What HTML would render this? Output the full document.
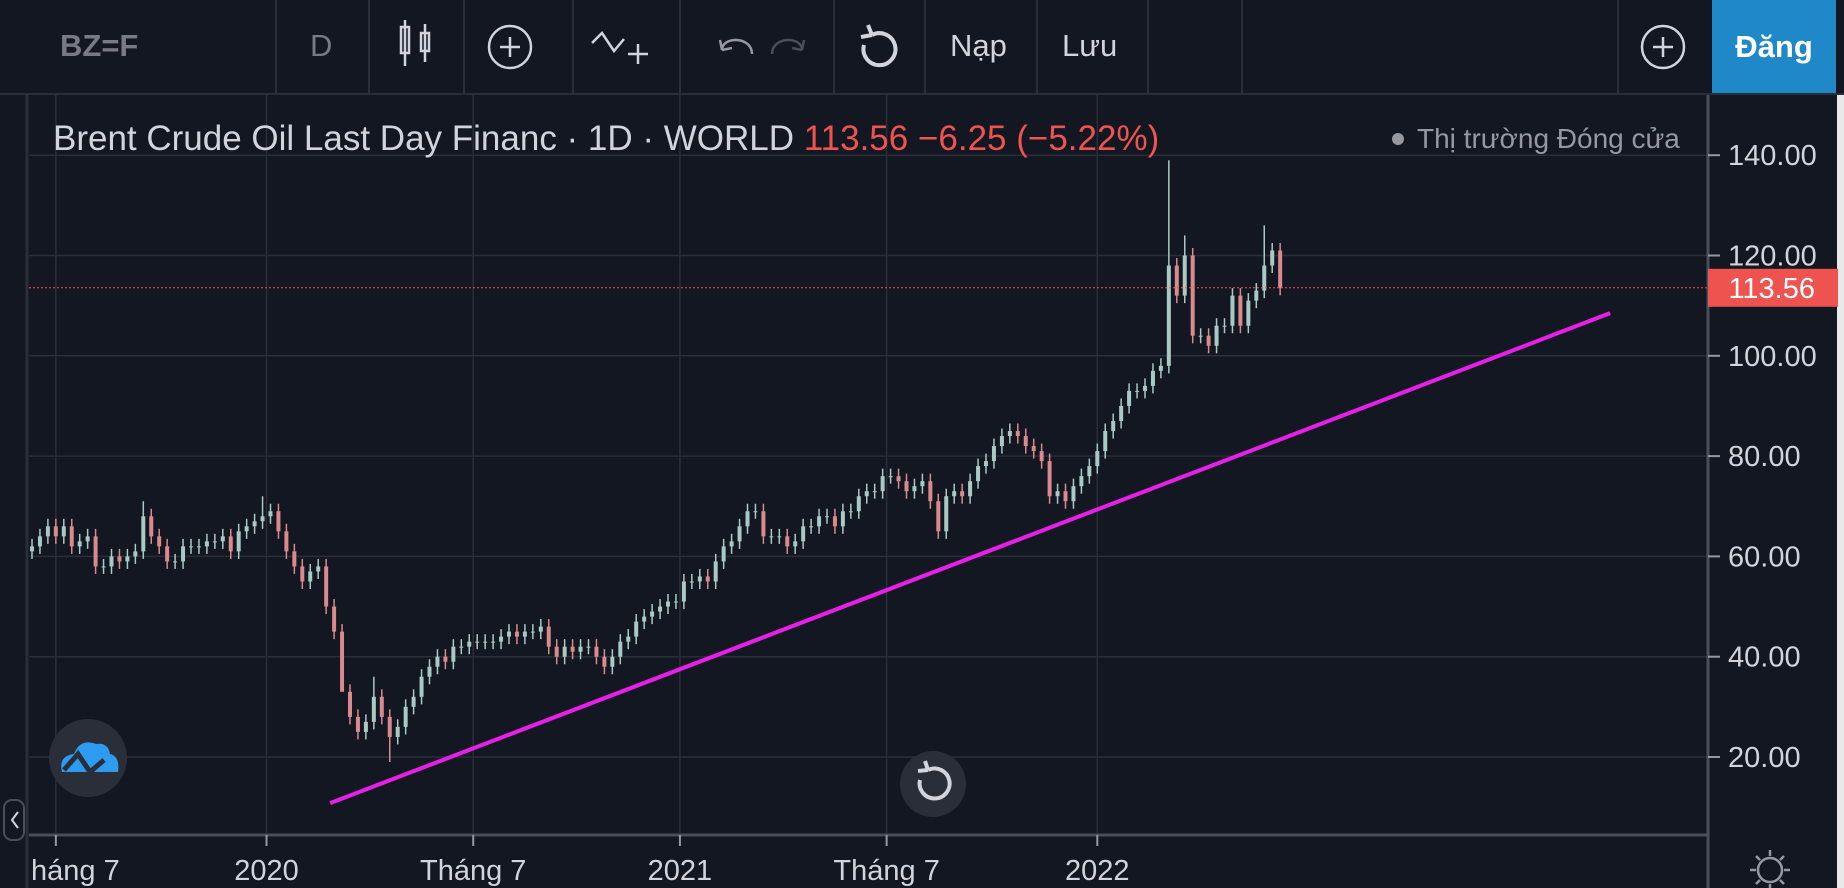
<!DOCTYPE html>
<html><head><meta charset="utf-8"><style>
body{margin:0;width:1844px;height:888px;background:#131722;overflow:hidden;font-family:"Liberation Sans","Noto Sans CJK SC",sans-serif;}
#root{position:relative;width:1844px;height:888px;}
.tb{position:absolute;top:0;left:0;width:1844px;height:93px;background:#131722;border-bottom:2px solid #2a2e39;}
.sep{position:absolute;top:0;width:2px;height:93px;background:#2a2e39;}
.tt{position:absolute;top:28px;font-size:31px;color:#9598a1;}
svg{position:absolute;left:0;top:0;}
</style></head><body><div id="root">
<div class="tb">
 <div class="tt" style="left:60px;font-weight:bold;color:#787b86">BZ=F</div>
 <div class="sep" style="left:275px"></div>
 <div class="tt" style="left:310px;color:#787b86">D</div>
 <div class="sep" style="left:368px"></div>
 <div class="sep" style="left:463px"></div>
 <div class="sep" style="left:572px"></div>
 <div class="sep" style="left:679px"></div>
 <div class="sep" style="left:833px"></div>
 <div class="sep" style="left:924px"></div>
 <div class="tt" style="left:950px;color:#d1d4dc">Nạp</div>
 <div class="sep" style="left:1036px"></div>
 <div class="tt" style="left:1062px;color:#d1d4dc">Lưu</div>
 <div class="sep" style="left:1147px"></div>
 <div class="sep" style="left:1241px"></div>
 <div class="sep" style="left:1617px"></div>
 <div style="position:absolute;left:1712px;top:0;width:124px;height:93px;background:#1e88c9;color:#fff;font-size:31px;font-weight:bold;text-align:center;line-height:93px">Đăng</div>
</div>
<svg width="1844" height="888" id="chart">
 <g stroke="#d1d4dc" stroke-width="2.5" fill="none">
  <rect x="401" y="27" width="8" height="26"/><line x1="405" y1="20" x2="405" y2="66"/>
  <rect x="421" y="33" width="8" height="18"/><line x1="425" y1="24" x2="425" y2="62"/>
  <circle cx="510" cy="47" r="21"/><line x1="500" y1="47" x2="520" y2="47"/><line x1="510" y1="37" x2="510" y2="57"/>
  <path d="M592 43 l10 -10 l12 18 l10 -12"/><line x1="628" y1="54" x2="648" y2="54"/><line x1="638" y1="44" x2="638" y2="64"/>
  <path d="M722 50 c0 -14 30 -14 30 4 M722 50 l-2 -10 M722 50 l10 -2" stroke="#9598a1"/>
  <path d="M802 50 c0 -14 -30 -14 -30 4 M802 50 l2 -10 M802 50 l-10 -2" stroke="#4a4e59"/>
  <path d="M872 35 a16 16 0 1 1 -8 10 M872 35 l-4 -10 M872 35 l-11 2" stroke-width="4"/>
  <circle cx="1663" cy="47" r="21"/><line x1="1653" y1="47" x2="1673" y2="47"/><line x1="1663" y1="37" x2="1663" y2="57"/>
 </g>
 <rect x="0" y="95" width="28" height="793" fill="#131722"/>
 <line x1="27" y1="95" x2="27" y2="888" stroke="#2a2e39" stroke-width="3"/>
 <g id="grid"></g>
 <g id="bars"></g>
 <line id="lastline" x1="29" x2="1708" stroke="#ef5350" stroke-width="1" stroke-dasharray="2,2"/>
 <line id="trend" stroke="#e81fe8" stroke-width="4"/>
 <line x1="29" y1="835" x2="1708" y2="835" stroke="#4a4e59" stroke-width="3"/>
 <line x1="1708" y1="95" x2="1708" y2="888" stroke="#4a4e59" stroke-width="3"/>
 <rect x="1837" y="95" width="7" height="793" fill="#e9e9ea"/>
 <g id="yaxis"></g><g id="xaxis"></g>
 <text x="53" y="150" font-size="35" fill="#d1d4dc">Brent Crude Oil Last Day Financ · 1D · WORLD <tspan fill="#ef5350">113.56 −6.25 (−5.22%)</tspan></text>
 <circle cx="1398" cy="139" r="6" fill="#9598a1"/>
 <text x="1417" y="148" font-size="28" fill="#9598a1">Thị trường Đóng cửa</text>
 <rect id="lastbox" x="1708" width="130" height="38" fill="#ef5350"/>
 <text id="lasttxt" x="1815" font-size="29" fill="#fff" text-anchor="end"></text>
 <g><circle cx="88" cy="758" r="39" fill="#2a2e39"/>
  <path d="M62 772 q-4 -16 12 -18 q6 -16 22 -10 q12 -2 14 10 q10 2 8 18 z" fill="#2d9cf0"/>
  <path d="M64 770 l14 -16 l12 18 l14 -12" stroke="#2a2e39" stroke-width="5" fill="none"/></g>
 <g><circle cx="933" cy="784" r="33" fill="#2a2e39"/>
  <path d="M928 770 a15 15 0 1 1 -8 10 M928 770 l-3 -9 M928 770 l-10 1" stroke="#d1d4dc" stroke-width="4" fill="none"/></g>
 <g><rect x="4" y="800" width="20" height="40" rx="8" fill="#131722" stroke="#4a4e59" stroke-width="2"/>
  <path d="M18 812 l-6 8 l6 8" stroke="#d1d4dc" stroke-width="2" fill="none"/></g>
 <g stroke="#9598a1" stroke-width="2.5" fill="none"><circle cx="1770" cy="870" r="12"/>
  <path d="M1770 850 v6 M1770 884 v6 M1750 870 h6 M1784 870 h6 M1756 856 l4 4 M1780 880 l4 4 M1784 856 l-4 4 M1756 884 l4 -4"/></g>
</svg>
</div>
<script>
const closes=[62,64,66, 64,66,62,63,64, 58,58,60,59, 60,61,68,64,62, 59,59,62,62, 62,63,63,64, 61,65,66,67,68,
69,65,61,58, 55,57,58,50, 45,33,28,25,27, 32,28,24,26, 30,32,36,38, 40,39,42,42,43, 43,43,43,44, 45,44,45,45,46, 42,40,42,41, 42,42,40,38, 40,43,44,47,48, 49,50,51,51,
55,55,56,55, 59,62,63,66, 69,69,64,64,64, 62,63,66,66, 68,68,66,69,69, 72,73,73,76, 76,75,73,74, 75,71,65,72,73, 72,75,78,79, 82,84,85,84, 82,81,79,72,73, 71,74,76,78,
81,85,87,90,93, 93,94,97,98, 118,112,120,104, 104,102,106,106, 112,106,111,113,118, 121,113.56];
const spikes=[[14,71],[29,72],[39,42],[43,36],[45,19],[143,139],[145,124],[155,126]];
const yTicks=[20,40,60,80,100,120,140];
const xTickLabels=["háng 7","2020","Tháng 7","2021","Tháng 7","2022"];
const xTickWeeks=[3,29.5,55.5,81.5,107.5,134];
const lastPrice=113.56;
const trendStart=[37.5,10.8], trendEnd=[198.5,108.5];
const NS="http://www.w3.org/2000/svg";
const x=i=>32+i*7.95;
const y=v=>757-(v-20)*5.015;
function mk(t,a,p){const e=document.createElementNS(NS,t);for(const k in a)e.setAttribute(k,a[k]);p.appendChild(e);return e;}
const grid=document.getElementById('grid'),ya=document.getElementById('yaxis'),xa=document.getElementById('xaxis'),bars=document.getElementById('bars');
yTicks.forEach(v=>{
 const l=mk('line',{x1:29,x2:1708,y1:y(v),y2:y(v),stroke:'#2a2e39','stroke-width':1.5},grid);
 
 
 mk('line',{x1:1708,x2:1720,y1:y(v),y2:y(v),stroke:'#9598a1','stroke-width':2},ya);
 const t=mk('text',{x:1728,y:y(v)+10,'font-size':29,fill:'#d1d4dc'},ya);t.textContent=v.toFixed(2);
 
 
});
xTickWeeks.forEach((w,i)=>{
 const gx=x(w);
 const l=mk('line',{x1:gx,x2:gx,y1:95,y2:835,stroke:'#2a2e39','stroke-width':1.5},grid);
 
 
 mk('line',{x1:gx,x2:gx,y1:835,y2:846,stroke:'#9598a1','stroke-width':2},xa);
 const t=mk('text',{x:gx,y:880,'font-size':29,fill:'#d1d4dc','text-anchor':i==0?'start':'middle'},xa);
 if(i==0)t.setAttribute('x',31);
 t.textContent=xTickLabels[i];
 
 
});
closes.forEach((c,i)=>{
 const o=i?closes[i-1]:c-1;
 let hi=Math.max(o,c)+1.5,lo=Math.min(o,c)-1.5;
 spikes.forEach(s=>{if(s[0]===i){if(s[1]>hi)hi=s[1];else lo=s[1];}});
 const col=c>=o?'#a9c9c4':'#d98a8c';
 const g=mk('g',{},bars);
 
 
 mk('line',{x1:x(i),x2:x(i),y1:y(hi),y2:y(lo),stroke:col,'stroke-width':1.5},g);
 mk('rect',{x:x(i)-2,y:y(Math.max(o,c)),width:4,height:Math.max(1,Math.abs(y(o)-y(c))),fill:col},g);
});
const ll=document.getElementById('lastline');ll.setAttribute('y1',y(lastPrice));ll.setAttribute('y2',y(lastPrice));
document.getElementById('lastbox').setAttribute('y',y(lastPrice)-19);
const lt=document.getElementById('lasttxt');lt.setAttribute('y',y(lastPrice)+10);lt.textContent=lastPrice.toFixed(2);
const tr=document.getElementById('trend');
tr.setAttribute('x1',x(trendStart[0]));tr.setAttribute('y1',y(trendStart[1]));
tr.setAttribute('x2',x(trendEnd[0]));tr.setAttribute('y2',y(trendEnd[1]));
</script>
</body></html>
